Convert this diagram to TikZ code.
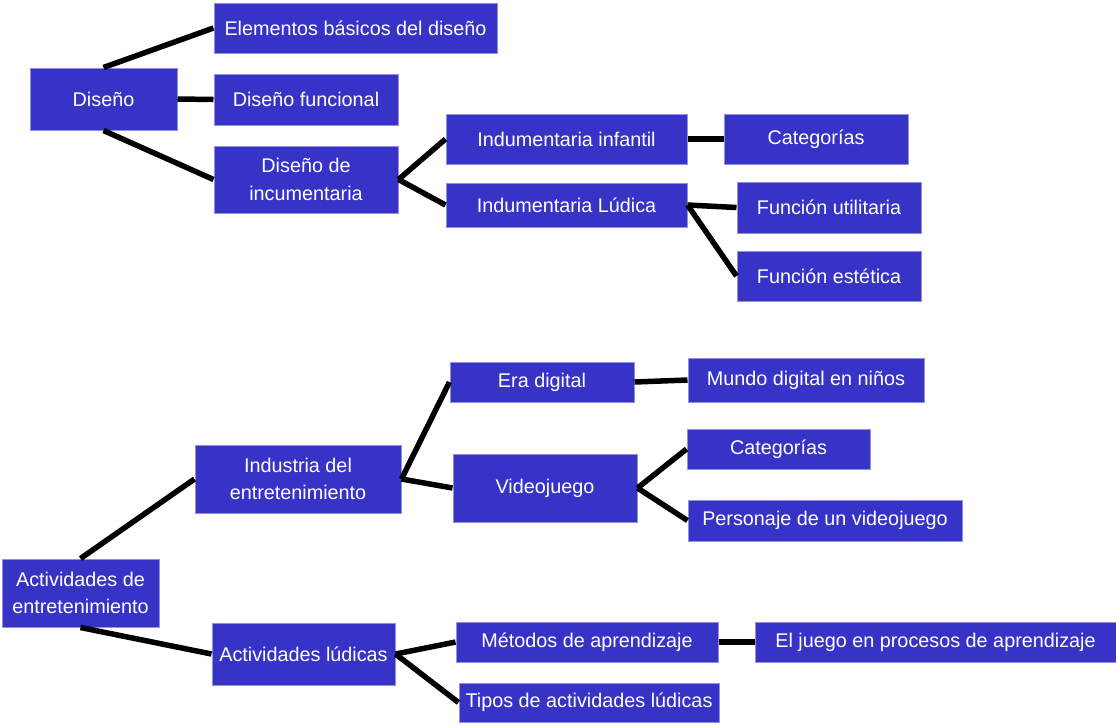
\documentclass[tikz,border=0pt]{standalone}
\usepackage{fontspec}
\setmainfont{Liberation Sans}
\definecolor{boxfill}{HTML}{3833C7}
\definecolor{boxline}{HTML}{9390E2}
\begin{document}
\begin{tikzpicture}[x=1pt,y=-1pt,
  box/.style={rectangle, fill=boxfill, draw=boxline, line width=1pt, text=white, inner sep=0pt, align=center,
    font=\fontsize{19.8}{27.5}\selectfont},
  link/.style={line width=5.5pt, black}]
\useasboundingbox (0,0) rectangle (1116,724);
% top tree
\node[box, minimum width=147pt, minimum height=62pt] (dis) at (103.5,99) {Diseño};
\node[box, minimum width=283pt, minimum height=50pt] (elem) at (355.5,28) {Elementos básicos del diseño};
\node[box, minimum width=184pt, minimum height=51pt] (func) at (306,99.5) {Diseño funcional};
\node[box, minimum width=184pt, minimum height=67pt] (inc) at (306,179.5) {Diseño de\\incumentaria};
\node[box, minimum width=241pt, minimum height=50pt] (inf) at (566.5,139) {Indumentaria infantil};
\node[box, minimum width=241pt, minimum height=44pt] (ludica) at (566.5,205) {Indumentaria Lúdica};
\node[box, minimum width=184pt, minimum height=50pt] (cat1) at (816,139) {Categorías};
\node[box, minimum width=184pt, minimum height=51pt] (util) at (829,207.5) {Función utilitaria};
\node[box, minimum width=184pt, minimum height=50pt] (estet) at (829,276) {Función estética};
% bottom tree
\node[box, minimum width=157pt, minimum height=68pt] (act) at (80.5,593) {Actividades de\\entretenimiento};
\node[box, minimum width=206pt, minimum height=68pt] (ind) at (298,479) {Industria del\\entretenimiento};
\node[box, minimum width=183pt, minimum height=62pt] (lud) at (303.5,654) {Actividades lúdicas};
\node[box, minimum width=184pt, minimum height=40pt] (era) at (542,382) {Era digital};
\node[box, minimum width=184pt, minimum height=68pt] (vid) at (545,488) {Videojuego};
\node[box, minimum width=236pt, minimum height=44pt] (mundo) at (806,380) {Mundo digital en niños};
\node[box, minimum width=183pt, minimum height=40pt] (cat2) at (778.5,449) {Categorías};
\node[box, minimum width=274pt, minimum height=41pt] (pers) at (825,520.5) {Personaje de un videojuego};
\node[box, minimum width=262pt, minimum height=40pt] (met) at (587,642) {Métodos de aprendizaje};
\node[box, minimum width=260pt, minimum height=39pt] (tipos) at (589,702.5) {Tipos de actividades lúdicas};
\node[box, minimum width=361pt, minimum height=40pt] (juego) at (935.5,642) {El juego en procesos de aprendizaje};
% connectors top
\draw[link] (dis.north) -- (elem.west);
\draw[link] (dis.east) -- (func.west);
\draw[link] (dis.south) -- (inc.west);
\draw[link] (inc.east) -- (inf.west);
\draw[link] (inc.east) -- (ludica.west);
\draw[link] (inf.east) -- (cat1.west);
\draw[link] (ludica.east) -- (util.west);
\draw[link] (ludica.east) -- (estet.west);
% connectors bottom
\draw[link] (act.north) -- (ind.west);
\draw[link] (act.south) -- (lud.west);
\draw[link] (ind.east) -- (era.west);
\draw[link] (ind.east) -- (vid.west);
\draw[link] (era.east) -- (mundo.west);
\draw[link] (vid.east) -- (cat2.west);
\draw[link] (vid.east) -- (pers.west);
\draw[link] (lud.east) -- (met.west);
\draw[link] (lud.east) -- (tipos.west);
\draw[link] (met.east) -- (juego.west);
\end{tikzpicture}
\end{document}
